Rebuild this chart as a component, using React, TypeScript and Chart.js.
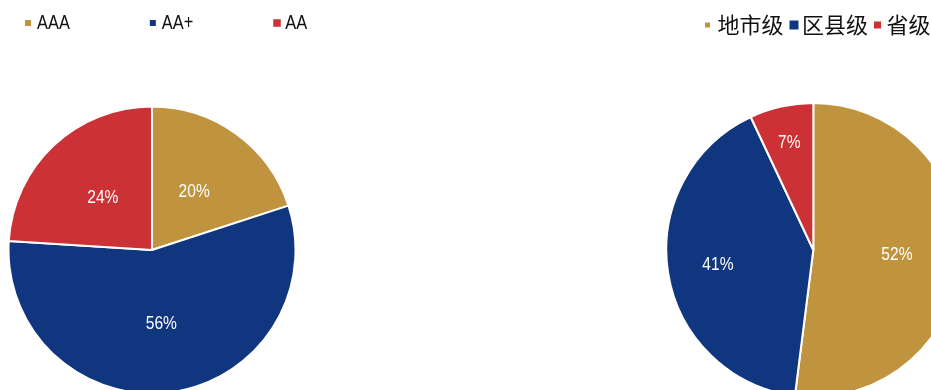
import React, { useEffect, useRef } from 'react';
import { Chart, registerables } from 'chart.js';

Chart.register(...registerables);

// ---- data ----
const ratingLabels = ['AAA', 'AA+', 'AA'];
const ratingShares = [20, 56, 24];
const levelLabels = ['地市级', '区县级', '省级'];
const levelShares = [52, 41, 7];
const sliceColors = ['#C0943E', '#0F367E', '#CB3135'];

const W = 931;
const H = 390;
const SANS = "'Liberation Sans', Arial, sans-serif";
const CJK = "'Noto Sans CJK SC', 'Noto Sans', sans-serif";

function drawText(ctx: any, text: string, x: number, y: number, sx: number) {
  ctx.save();
  ctx.translate(x, y);
  ctx.scale(sx, 1);
  ctx.fillText(text, 0, 0);
  ctx.restore();
}

const pieLabelPlugin = {
  id: 'pieLabels',
  afterDatasetsDraw(chart: any, _args: any, opts: any) {
    const ctx = chart.ctx;
    const meta = chart.getDatasetMeta(0);
    const data = chart.data.datasets[0].data;
    ctx.save();
    ctx.font = opts.font;
    ctx.fillStyle = opts.color;
    ctx.textAlign = 'center';
    ctx.textBaseline = 'middle';
    meta.data.forEach((arc: any, i: number) => {
      const p = arc.getProps(['x', 'y', 'startAngle', 'endAngle', 'outerRadius'], true);
      const mid = (p.startAngle + p.endAngle) / 2;
      const r = p.outerRadius * opts.radii[i];
      drawText(ctx, `${data[i]}%`, p.x + Math.cos(mid) * r, p.y + Math.sin(mid) * r, opts.scaleX);
    });
    ctx.restore();
  },
};

const flatLegendPlugin = {
  id: 'flatLegend',
  afterDraw(chart: any, _args: any, opts: any) {
    const ctx = chart.ctx;
    ctx.save();
    ctx.font = opts.font;
    ctx.textBaseline = 'middle';
    ctx.textAlign = 'left';
    let x = opts.x;
    const colors = chart.data.datasets[0].backgroundColor;
    chart.data.labels.forEach((label: string, i: number) => {
      const s = opts.boxSizes[i];
      ctx.fillStyle = colors[i];
      ctx.fillRect(x, opts.y - s / 2, s, s);
      const tx = x + opts.textOffset;
      ctx.fillStyle = opts.color;
      drawText(ctx, label, tx, opts.y, opts.scaleX);
      x = tx + ctx.measureText(label).width * opts.scaleX + opts.gap;
    });
    ctx.restore();
  },
};

type PieSpec = {
  labels: string[];
  values: number[];
  center: [number, number];
  radius: number;
  labelRadii: number[];
  legend: { x: number; y: number; font: string; scaleX: number; boxSizes: number[]; textOffset: number; gap: number };
};

function PieChart({ spec }: { spec: PieSpec }) {
  const ref = useRef<HTMLCanvasElement | null>(null);
  useEffect(() => {
    if (!ref.current) return;
    const [cx, cy] = spec.center;
    const halfW = Math.min(cx, W - cx);
    const halfH = Math.min(cy, H - cy);
    const chart = new Chart(ref.current, {
      type: 'pie',
      data: {
        labels: spec.labels,
        datasets: [
          {
            data: spec.values,
            backgroundColor: sliceColors,
            borderColor: '#FFFFFF',
            borderWidth: 2,
          },
        ],
      },
      options: {
        responsive: false,
        animation: false,
        radius: spec.radius,
        layout: {
          padding: {
            left: cx - halfW,
            right: W - (cx + halfW),
            top: cy - halfH,
            bottom: H - (cy + halfH),
          },
        },
        plugins: {
          legend: { display: false },
          tooltip: { enabled: false },
          pieLabels: { font: `19px ${SANS}`, scaleX: 0.82, color: '#FFFFFF', radii: spec.labelRadii },
          flatLegend: { ...spec.legend, color: '#111111' },
        } as any,
      } as any,
      plugins: [pieLabelPlugin, flatLegendPlugin],
    });
    return () => chart.destroy();
  }, [spec]);
  return (
    <canvas
      ref={ref}
      width={W}
      height={H}
      style={{ position: 'absolute', left: 0, top: 0, width: W, height: H }}
    />
  );
}

const leftSpec: PieSpec = {
  labels: ratingLabels,
  values: ratingShares,
  center: [152, 250],
  radius: 143.5,
  labelRadii: [0.5, 0.52, 0.5],
  legend: { x: 25, y: 23, font: `20px ${SANS}`, scaleX: 0.82, boxSizes: [6, 6, 7.5], textOffset: 12, gap: 80 },
};

const rightSpec: PieSpec = {
  labels: levelLabels,
  values: levelShares,
  center: [813.3, 250],
  radius: 147,
  labelRadii: [0.57, 0.657, 0.75],
  legend: { x: 705, y: 25, font: `22px ${CJK}`, scaleX: 1, boxSizes: [5, 9, 7], textOffset: 12.5, gap: 6 },
};

export default function App() {
  return (
    <div
      style={{
        position: 'absolute',
        left: 0,
        top: 0,
        width: W,
        height: H,
        overflow: 'hidden',
        background: '#FFFFFF',
      }}
    >
      <PieChart spec={leftSpec} />
      <PieChart spec={rightSpec} />
    </div>
  );
}
